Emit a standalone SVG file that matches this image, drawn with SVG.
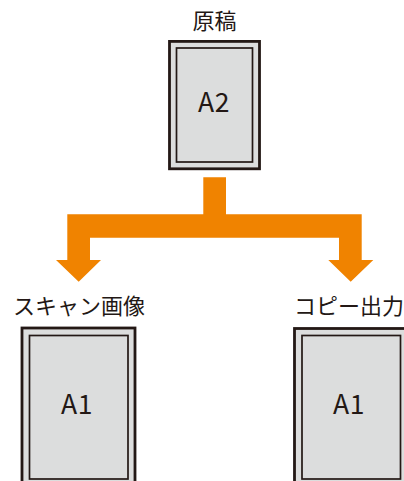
<svg xmlns="http://www.w3.org/2000/svg" width="404" height="481" viewBox="0 0 404 481">
<style>
.outer{fill:#dcdddd;stroke:#231815;stroke-width:2.8}
.inner{fill:#dcdddd;stroke:#231815;stroke-width:1.7}
.lbl{font-family:"Noto Sans CJK JP","Noto Sans",sans-serif;font-size:22px;fill:#231815}
.big{font-family:"Noto Sans CJK JP","Noto Sans",sans-serif;font-size:26.5px;fill:#231815;text-anchor:middle;letter-spacing:0.5px}
.arr{fill:#f08300}
</style>
<g id="original">
<text class="lbl" x="214.5" y="29" text-anchor="middle">原稿</text>
<rect class="outer" x="169.5" y="41.4" width="90" height="127.4"/>
<rect class="inner" x="176.5" y="48" width="76" height="114"/>
<text class="big" x="214" y="112">A2</text>
</g>
<g id="connectors">
<path class="arr" d="M203.3,177.3 H226 V214.3 H361.7 V260 H373.3 L350.7,281.7 L328.3,260 H339 V237.7 H90 V260 H101 L78.7,281.7 L56,260 H67.3 V214.3 H203.3 Z"/>
</g>
<g id="scan">
<text class="lbl" x="13" y="314">スキャン画像</text>
<rect class="outer" x="22" y="328" width="113" height="160"/>
<rect class="inner" x="29.5" y="335.5" width="98.5" height="143.5"/>
<text class="big" x="77" y="414">A1</text>
</g>
<g id="copy">
<text class="lbl" x="294" y="314">コピー出力</text>
<rect class="outer" x="294.5" y="328.5" width="113" height="160"/>
<rect class="inner" x="302" y="335.5" width="98.5" height="143.5"/>
<text class="big" x="349" y="414">A1</text>
</g>
</svg>
